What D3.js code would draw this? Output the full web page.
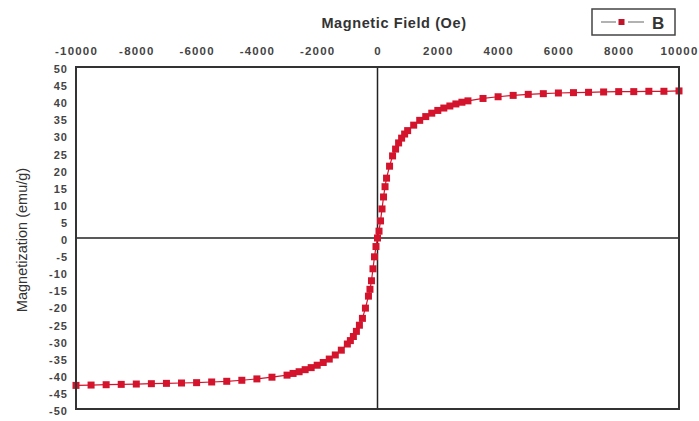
<!DOCTYPE html>
<html>
<head>
<meta charset="utf-8">
<script src="https://cdn.jsdelivr.net/npm/d3@7"></script>
<style>
  body { margin: 0; background: #fff; }
  svg { display: block; font-family: "Liberation Sans", Arial, sans-serif; }
</style>
</head>
<body>
<div id="chart"></div>
<script>
const width = 699;
const height = 421;

// field values (Oe)
const fieldOe = [
  -10000, -9500, -9000, -8500, -8000, -7500, -7000, -6500, -6000, -5500,
  -5000, -4500, -4000, -3500, -3000, -2800, -2600, -2400, -2200, -2000,
  -1800, -1600, -1400, -1200, -1000, -900, -800, -700, -600, -500,
  -400, -300, -250, -200, -150, -100, -50, 0, 50, 100,
  150, 200, 250, 300, 400, 500, 600, 700, 800, 900,
  1000, 1200, 1400, 1600, 1800, 2000, 2200, 2400, 2600, 2800,
  3000, 3500, 4000, 4500, 5000, 5500, 6000, 6500, 7000, 7500,
  8000, 8500, 9000, 9500, 10000
];

// magnetization (emu/g) series "B"
const seriesB = [
  -43.1, -43.0, -42.9, -42.8, -42.7, -42.6, -42.5, -42.4, -42.3, -42.1,
  -41.9, -41.6, -41.2, -40.7, -40.1, -39.6, -39.1, -38.5, -37.9, -37.2,
  -36.4, -35.4, -34.2, -32.8, -31.0, -30.0, -28.8, -27.3, -25.5, -23.5,
  -20.5, -17.0, -15.0, -12.5, -9.0, -5.5, -2.5, 0.0, 2.0, 5.0,
  8.5, 12.0, 15.0, 17.5, 21.0, 24.0, 26.0, 27.8, 29.2, 30.4,
  31.4, 33.0, 34.4, 35.5, 36.5, 37.3, 38.0, 38.6, 39.2, 39.7,
  40.1, 40.8, 41.3, 41.7, 42.0, 42.2, 42.4, 42.5, 42.6, 42.7,
  42.8, 42.8, 42.9, 42.9, 43.0
];

const xTicks = [-10000, -8000, -6000, -4000, -2000, 0, 2000, 4000, 6000, 8000, 10000];
const yTicks = [50, 45, 40, 35, 30, 25, 20, 15, 10, 5, 0, -5, -10, -15, -20, -25, -30, -35, -40, -45, -50];

const plot = { left: 76, right: 679, top: 67, bottom: 409 };

const x = d3.scaleLinear().domain([-10000, 10000]).range([plot.left, plot.right]);
const y = d3.scaleLinear().domain([-50, 50]).range([plot.bottom, plot.top]);

const svg = d3.select("#chart")
              .append("svg")
              .attr("width", width)
              .attr("height", height);

// axis titles
svg.append("text")
   .attr("x", 394)
   .attr("y", 28)
   .attr("text-anchor", "middle")
   .attr("font-size", 14.5)
   .attr("font-weight", "bold")
   .attr("letter-spacing", 0.6)
   .attr("fill", "#333")
   .text("Magnetic Field (Oe)");

svg.append("text")
   .attr("transform", "translate(27, 240) rotate(-90)")
   .attr("text-anchor", "middle")
   .attr("font-size", 14.5)
   .attr("fill", "#333")
   .text("Magnetization (emu/g)");

// tick labels (plain hyphen, no thousands separator)
const plain = d => String(d);

const xAxis = d3.axisTop(x).tickValues(xTicks).tickSize(0).tickPadding(12).tickFormat(plain);
const gx = svg.append("g")
              .attr("transform", `translate(0, ${plot.top})`)
              .call(xAxis);
gx.select(".domain").remove();
gx.selectAll("text")
  .attr("font-size", 11.5)
  .attr("font-weight", "bold")
  .attr("letter-spacing", 1.2)
  .attr("fill", "#444")
  .attr("font-family", "Liberation Sans, Arial, sans-serif");
// keep the last label inside the window
gx.selectAll("text")
  .filter(d => d === 10000)
  .attr("text-anchor", "end")
  .attr("x", 698 - x(10000));

const yAxis = d3.axisLeft(y).tickValues(yTicks).tickSize(0).tickPadding(8).tickFormat(plain);
const gy = svg.append("g")
              .attr("transform", `translate(${plot.left}, 2)`)
              .call(yAxis);
gy.select(".domain").remove();
gy.selectAll("text")
  .attr("font-size", 11)
  .attr("font-weight", "bold")
  .attr("letter-spacing", 1)
  .attr("fill", "#444")
  .attr("font-family", "Liberation Sans, Arial, sans-serif");

// zero lines
svg.append("line")
   .attr("x1", x(0)).attr("x2", x(0))
   .attr("y1", plot.top).attr("y2", plot.bottom)
   .attr("stroke", "#222").attr("stroke-width", 1.5);
svg.append("line")
   .attr("x1", plot.left).attr("x2", plot.right)
   .attr("y1", y(0)).attr("y2", y(0))
   .attr("stroke", "#222").attr("stroke-width", 1.5);

// data
const points = fieldOe.map((h, i) => ({ h: h, m: seriesB[i] }));

const line = d3.line()
               .x(d => x(d.h))
               .y(d => y(d.m));

svg.append("path")
   .datum(points)
   .attr("fill", "none")
   .attr("stroke", "#d3142c")
   .attr("stroke-width", 1.2)
   .attr("d", line);

const marker = 7;
svg.append("g")
   .selectAll("rect")
   .data(points)
   .enter()
   .append("rect")
   .attr("x", d => x(d.h) - marker / 2)
   .attr("y", d => y(d.m) - marker / 2)
   .attr("width", marker)
   .attr("height", marker)
   .attr("fill", "#d3142c");

// frame
svg.append("rect")
   .attr("x", plot.left)
   .attr("y", plot.top)
   .attr("width", plot.right - plot.left)
   .attr("height", plot.bottom - plot.top)
   .attr("fill", "none")
   .attr("stroke", "#333")
   .attr("stroke-width", 2);

// legend
const legend = svg.append("g");
legend.append("rect")
      .attr("x", 592).attr("y", 9)
      .attr("width", 83).attr("height", 26)
      .attr("fill", "#fff")
      .attr("stroke", "#444")
      .attr("stroke-width", 1.5);
legend.append("line")
      .attr("x1", 601).attr("x2", 616)
      .attr("y1", 22).attr("y2", 22)
      .attr("stroke", "#999").attr("stroke-width", 1.5);
legend.append("line")
      .attr("x1", 628).attr("x2", 644)
      .attr("y1", 22).attr("y2", 22)
      .attr("stroke", "#999").attr("stroke-width", 1.5);
legend.append("rect")
      .attr("x", 618.5).attr("y", 19)
      .attr("width", 6).attr("height", 6)
      .attr("fill", "#c0142a");
legend.append("text")
      .attr("x", 652).attr("y", 29)
      .attr("font-size", 17)
      .attr("font-weight", "bold")
      .attr("fill", "#333")
      .text("B");
</script>
</body>
</html>
